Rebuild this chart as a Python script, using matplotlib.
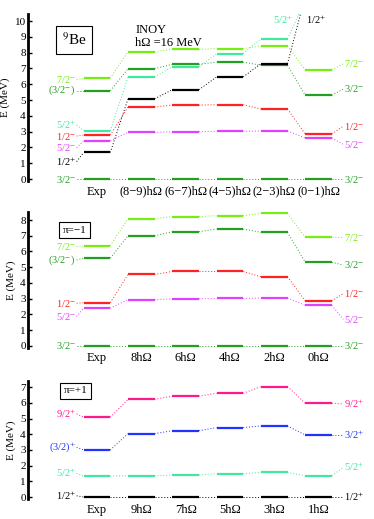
import matplotlib
matplotlib.use("Agg")
import matplotlib.pyplot as plt

plt.rcParams['font.family'] = ['Liberation Serif', 'DejaVu Serif']
plt.rcParams['mathtext.fontset'] = 'stix'

LG = '#77ee11'
DG = '#22a022'
AQ = '#40e8a0'
RD = '#ff2222'
MG = '#e040ff'
PK = '#ff1a8c'
BL = '#2233ff'
BK = '#000000'

# panel 1: 9Be, all states
cols1 = ['Exp', '(8\u22129)h\u03a9', '(6\u22127)h\u03a9', '(4\u22125)h\u03a9', '(2\u22123)h\u03a9', '(0\u22121)h\u03a9']
e1_72m = [6.38, 8.06, 8.21, 8.25, 8.42, 6.90]
e1_32m = [5.59, 6.98, 7.26, 7.40, 7.20, 5.30]
e1_52p = [3.05, 6.46, 7.11, 7.93, 8.88, 11.3]
e1_12m = [2.78, 4.56, 4.68, 4.70, 4.43, 2.85]
e1_52m = [2.43, 2.95, 3.00, 3.02, 3.04, 2.60]
e1_12p = [1.68, 5.08, 5.65, 6.46, 7.30, 11.6]
e1_gs = [0, 0, 0, 0, 0, 0]

# panel 2: negative parity
cols2 = ['Exp', '8h\u03a9', '6h\u03a9', '4h\u03a9', '2h\u03a9', '0h\u03a9']
e2_72m = [6.37, 8.09, 8.22, 8.28, 8.43, 6.90]
e2_32m = [5.58, 7.00, 7.26, 7.43, 7.22, 5.31]
e2_12m = [2.74, 4.54, 4.73, 4.73, 4.39, 2.85]
e2_52m = [2.40, 2.93, 2.99, 3.01, 3.04, 2.57]
e2_gs = [0, 0, 0, 0, 0, 0]

# panel 3: positive parity
cols3 = ['Exp', '9h\u03a9', '7h\u03a9', '5h\u03a9', '3h\u03a9', '1h\u03a9']
e3_92p = [5.09, 6.23, 6.43, 6.62, 7.04, 5.98]
e3_32p = [3.00, 4.04, 4.23, 4.43, 4.53, 3.96]
e3_52p = [1.34, 1.36, 1.40, 1.49, 1.57, 1.36]
e3_12p = [0, 0, 0, 0, 0, 0]

M = '$^{-}$'
P = '$^{+}$'

# (values, colour, left label, left label y, right label, right label y)
panel1 = [
    (e1_72m, LG, '7/2' + M, 6.3, '7/2' + M, 7.3),
    (e1_32m, DG, '(3/2' + M + ')', 5.59, '3/2' + M, 5.7),
    (e1_52p, AQ, '5/2' + P, 3.42, None, None),
    (e1_12m, RD, '1/2' + M, 2.72, '1/2' + M, 3.35),
    (e1_52m, MG, '5/2' + M, 1.98, '5/2' + M, 2.19),
    (e1_12p, BK, '1/2' + P, 1.1, None, None),
    (e1_gs, DG, '3/2' + M, 0.0, '3/2' + M, 0.0),
]
panel2 = [
    (e2_72m, LG, '7/2' + M, 6.3, '7/2' + M, 6.9),
    (e2_32m, DG, '(3/2' + M + ')', 5.46, '3/2' + M, 5.14),
    (e2_12m, RD, '1/2' + M, 2.7, '1/2' + M, 3.33),
    (e2_52m, MG, '5/2' + M, 1.85, '5/2' + M, 1.68),
    (e2_gs, DG, '3/2' + M, 0.0, '3/2' + M, 0.0),
]
panel3 = [
    (e3_92p, PK, '9/2' + P, 5.3, '9/2' + P, 5.94),
    (e3_32p, BL, '(3/2)' + P, 3.17, '3/2' + P, 3.96),
    (e3_52p, AQ, '5/2' + P, 1.51, '5/2' + P, 1.89),
    (e3_12p, BK, '1/2' + P, 0.08, '1/2' + P, 0.0),
]

fig = plt.figure(figsize=(3.74, 5.19), dpi=100)
ax1 = fig.add_axes([0.0762, 0.6505, 0.894, 0.3227])
ax2 = fig.add_axes([0.0762, 0.3293, 0.894, 0.2618])
ax3 = fig.add_axes([0.0762, 0.0378, 0.894, 0.2281])

hw = 0.3
fs = 7.5
dot = dict(lw=0.7, ls=(0, (1, 2)))


def draw(ax, cols, states, ymax, yticks):
    x = list(range(len(cols)))
    for vals, c, ll, ly, rl, ry in states:
        for i, v in enumerate(vals):
            ax.plot([x[i] - hw, x[i] + hw], [v, v], color=c, lw=1.6,
                    solid_capstyle='butt')
            if i < len(vals) - 1:
                ax.plot([x[i] + hw, x[i + 1] - hw], [v, vals[i + 1]],
                        color=c, **dot)
        ax.plot([-0.46, -hw], [ly, vals[0]], color=c, **dot)
        ax.text(-0.48, ly, ll, color=c, fontsize=fs, ha='right', va='center')
        if rl is not None:
            ax.plot([x[-1] + hw, x[-1] + 0.56], [vals[-1], ry], color=c,
                    **dot)
            ax.text(x[-1] + 0.58, ry, rl, color=c, fontsize=fs,
                    ha='left', va='center')
    ax.set_xlim(-1.546, 6.0)
    ax.set_ylim(-0.15, ymax)
    ax.set_xticks(x)
    ax.set_xticklabels(cols, fontsize=9)
    ax.set_yticks(yticks)
    ax.tick_params(axis='x', length=0, pad=3)
    ax.tick_params(axis='y', direction='in', length=3, width=1,
                   labelsize=8, pad=2)
    for s in ['top', 'right', 'bottom']:
        ax.spines[s].set_visible(False)
    ax.spines['left'].set_linewidth(2)
    ax.set_ylabel('E (MeV)', fontsize=8, labelpad=3)


draw(ax1, cols1, panel1, 10.45, range(0, 11))
draw(ax2, cols2, panel2, 8.5, range(0, 9))
draw(ax3, cols3, panel3, 7.4, range(0, 8))

ax1.text(4.42, 10.1, '5/2' + P, color=AQ, fontsize=fs, ha='right', va='center')
ax1.text(4.72, 10.1, '1/2' + P, color=BK, fontsize=fs, ha='left', va='center')

box = dict(boxstyle='square,pad=0.35', fc='white', ec='black', lw=0.8)
ax1.text(0.136, 0.844, '$^{9}$Be', transform=ax1.transAxes, fontsize=11,
         ha='center', va='center', bbox=box)
ax1.text(0.319, 0.904, 'INOY', transform=ax1.transAxes, fontsize=9,
         ha='left', va='center')
ax1.text(0.319, 0.826, 'h\u03a9 =16 MeV', transform=ax1.transAxes,
         fontsize=9, ha='left', va='center')
ax2.text(0.138, 0.869, '\u03c0=\u22121', transform=ax2.transAxes, fontsize=8,
         ha='center', va='center', bbox=box)
ax3.text(0.14, 0.916, '\u03c0=+1', transform=ax3.transAxes, fontsize=8,
         ha='center', va='center', bbox=box)

fig.savefig('out.png', dpi=100)
